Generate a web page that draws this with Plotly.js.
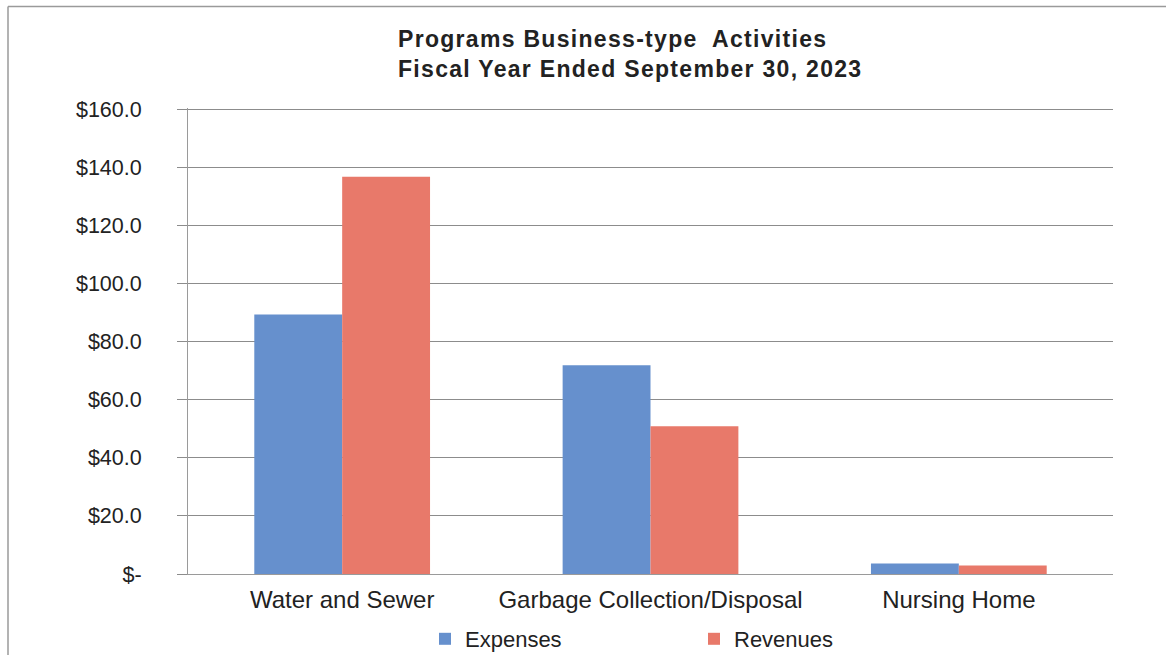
<!DOCTYPE html>
<html>
<head>
<meta charset="utf-8">
<script src="https://cdn.plot.ly/plotly-3.0.1.min.js"></script>
<style>
  html, body { margin: 0; padding: 0; background: #fff; }
  #chart { width: 1166px; height: 655px; }
  .gtitle { letter-spacing: 1.3px; }
</style>
</head>
<body>
<div id="chart"></div>
<script>
// Program categories (business-type activities)
const categories = ['Water and Sewer', 'Garbage Collection/Disposal', 'Nursing Home'];

// Amounts in millions of dollars
const expenses = [89.4, 71.9, 3.6];
const revenues = [136.8, 50.9, 2.9];

// Y axis ticks in accounting style
const yTickValues = [0, 20, 40, 60, 80, 100, 120, 140, 160];
const yTickLabels = ['$-', '$20.0', '$40.0', '$60.0', '$80.0', '$100.0', '$120.0', '$140.0', '$160.0'];

const font = 'Liberation Sans, Arial, sans-serif';

const traces = [
  {
    type: 'bar', name: 'Expenses', x: categories, y: expenses,
    marker: { color: '#6690cd' }, hoverinfo: 'x+y'
  },
  {
    type: 'bar', name: 'Revenues', x: categories, y: revenues,
    marker: { color: '#e8796a' }, hoverinfo: 'x+y'
  }
];

// Pixel helpers for paper-referenced placement
const px = v => (v - 188) / 925;
const py = v => (574 - v) / 466.5;

const layout = {
  width: 1166, height: 655,
  margin: { l: 188, r: 53, t: 107.5, b: 81, pad: 0, autoexpand: false },
  paper_bgcolor: '#fff', plot_bgcolor: '#fff',
  font: { family: font, color: '#222' },
  title: {
    text: 'Programs Business-type\u00a0 Activities<br>Fiscal Year Ended September 30, 2023',
    font: { family: font, size: 23, color: '#222', weight: 'bold' },
    x: px(398), xref: 'paper', xanchor: 'left',
    y: 1 - 47 / 655, yref: 'container', yanchor: 'top'
  },
  barmode: 'group', bargap: 0.43, bargroupgap: 0,
  xaxis: {
    showgrid: false, zeroline: false,
    showline: true, linecolor: '#9a9a9a', linewidth: 1,
    ticks: '', tickfont: { family: font, size: 24, color: '#222' },
    ticklabelstandoff: 4, fixedrange: true
  },
  yaxis: {
    range: [0, 160.5], tickmode: 'array', tickvals: yTickValues, ticktext: yTickLabels,
    showgrid: true, gridcolor: '#8c8c8c', gridwidth: 1,
    zeroline: false, showline: true, linecolor: '#9a9a9a', linewidth: 1,
    ticks: 'outside', ticklen: 10, tickcolor: '#8c8c8c', tickwidth: 1,
    tickfont: { family: font, size: 21.5, color: '#222' },
    ticklabelstandoff: 31, fixedrange: true
  },
  showlegend: true,
  legend: {
    orientation: 'h', x: px(425), xanchor: 'left',
    y: 1 - 639 / 655, yref: 'container', yanchor: 'middle',
    font: { family: font, size: 22, color: '#222' },
    entrywidth: 224, entrywidthmode: 'pixels', bgcolor: 'rgba(0,0,0,0)'
  },
  // Outer chart frame (top and left edges visible)
  shapes: [
    { type: 'line', xref: 'paper', yref: 'paper', x0: px(8), x1: px(1170), y0: py(6), y1: py(6),
      line: { color: '#9a9a9a', width: 1.5 } },
    { type: 'line', xref: 'paper', yref: 'paper', x0: px(8), x1: px(8), y0: py(6), y1: py(660),
      line: { color: '#9a9a9a', width: 1.5 } }
  ]
};

Plotly.newPlot('chart', traces, layout, { displayModeBar: false, staticPlot: true });
</script>
</body>
</html>
